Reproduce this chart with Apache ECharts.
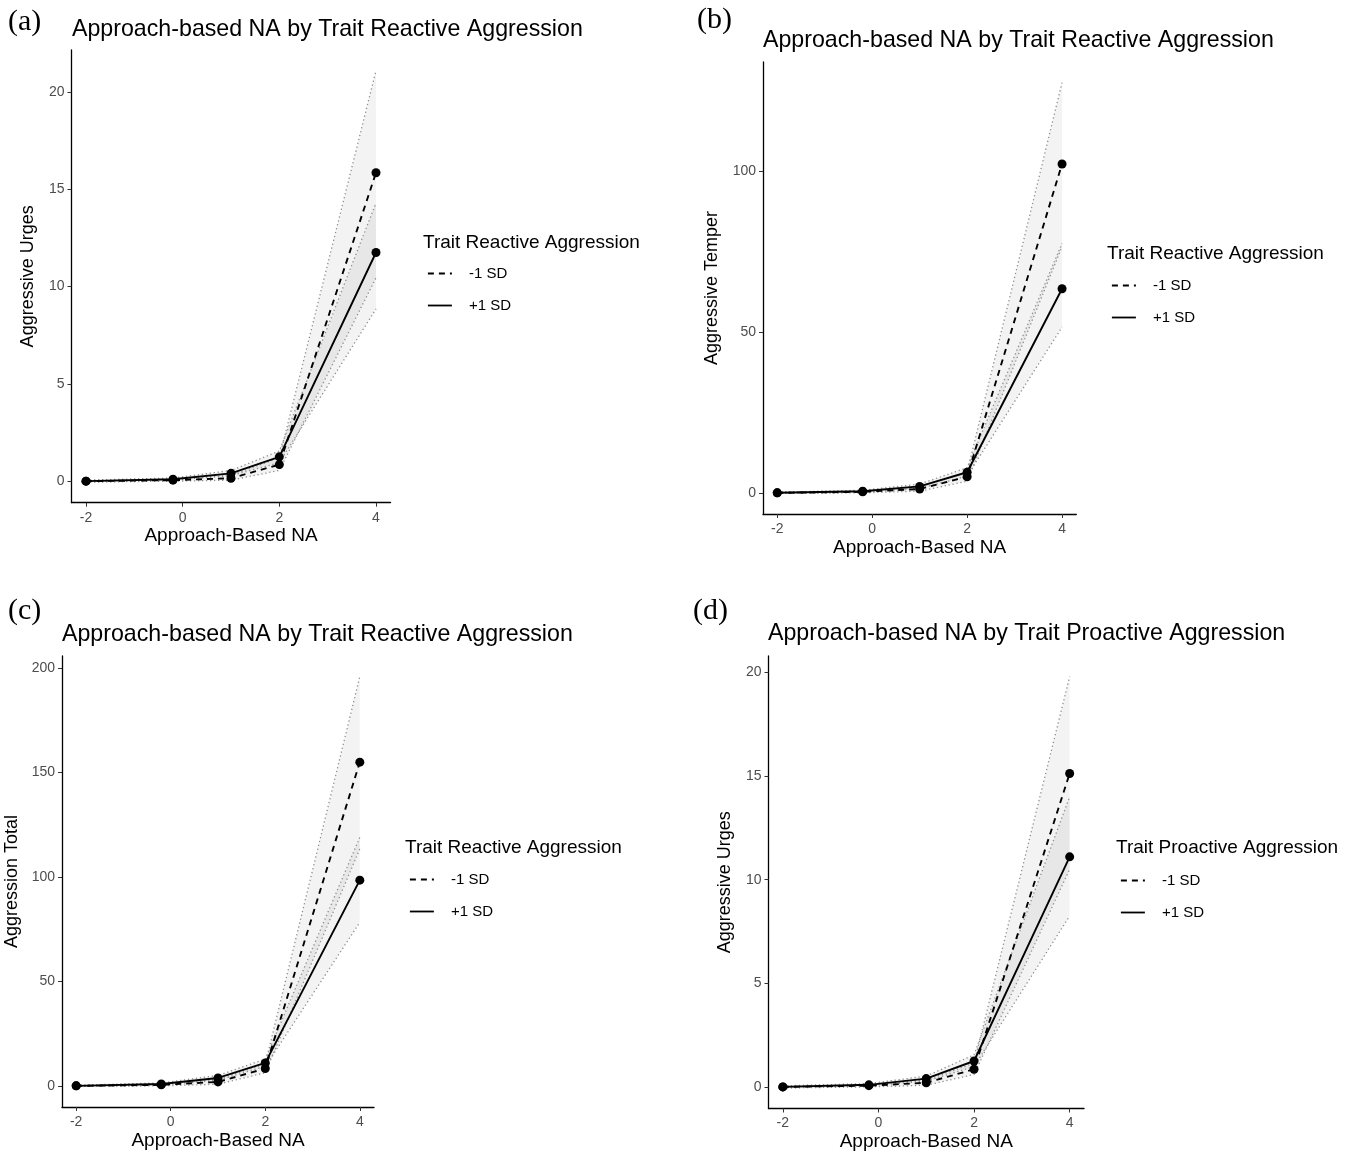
<!DOCTYPE html>
<html><head><meta charset="utf-8">
<script src="https://cdn.jsdelivr.net/npm/echarts@6/dist/echarts.min.js"></script>
<style>html,body{margin:0;padding:0;background:#fff}#c{width:1356px;height:1155px}</style>
</head><body><div id="c"></div>
<script>
// ---------- DATA ----------
const xValues = [-2, -0.2, 1, 2, 4];
const xTickValues = [-2, 0, 2, 4];
const seriesNames = ['-1 SD', '+1 SD'];
const xAxisTitle = 'Approach-Based NA';

// (a)
const aTag = '(a)';
const aTitle = 'Approach-based NA by Trait Reactive Aggression';
const aYTitle = 'Aggressive Urges';
const aLegendTitle = 'Trait Reactive Aggression';
const aYTicks = [0, 5, 10, 15, 20];
const aMinus = [0, 0.05, 0.15, 0.85, 15.85];
const aPlus = [0, 0.1, 0.4, 1.25, 11.75];
const aMinusLo = [-0.05, 0, 0.05, 0.55, 10.45];
const aMinusHi = [0.05, 0.12, 0.3, 1.2, 21.1];
const aPlusLo = [-0.05, 0.05, 0.28, 0.95, 8.85];
const aPlusHi = [0.05, 0.16, 0.55, 1.55, 14.3];

// (b)
const bTag = '(b)';
const bTitle = 'Approach-based NA by Trait Reactive Aggression';
const bYTitle = 'Aggressive Temper';
const bLegendTitle = 'Trait Reactive Aggression';
const bYTicks = [0, 50, 100];
const bMinus = [0, 0.3, 1.2, 5, 102.2];
const bPlus = [0, 0.5, 2, 6.4, 63.4];
const bMinusLo = [-0.2, 0, 0.5, 3.6, 76.5];
const bMinusHi = [0.2, 0.6, 2, 6.4, 127.5];
const bPlusLo = [-0.2, 0.2, 1.3, 5.2, 51.5];
const bPlusHi = [0.2, 0.8, 2.7, 7.8, 77.5];

// (c)
const cTag = '(c)';
const cTitle = 'Approach-based NA by Trait Reactive Aggression';
const cYTitle = 'Aggression Total';
const cLegendTitle = 'Trait Reactive Aggression';
const cYTicks = [0, 50, 100, 150, 200];
const cMinus = [0, 0.5, 1.9, 8.3, 155];
const cPlus = [0, 0.9, 3.8, 11, 98.5];
const cMinusLo = [-0.3, 0, 0.8, 6.3, 113.5];
const cMinusHi = [0.3, 1, 3.2, 10.5, 196];
const cPlusLo = [-0.3, 0.4, 2.7, 9.3, 78.3];
const cPlusHi = [0.3, 1.4, 5, 12.8, 119];

// (d)
const dTag = '(d)';
const dTitle = 'Approach-based NA by Trait Proactive Aggression';
const dYTitle = 'Aggressive Urges';
const dLegendTitle = 'Trait Proactive Aggression';
const dYTicks = [0, 5, 10, 15, 20];
const dMinus = [0, 0.06, 0.2, 0.85, 15.12];
const dPlus = [0, 0.1, 0.4, 1.25, 11.1];
const dMinusLo = [-0.05, 0, 0.08, 0.6, 10.5];
const dMinusHi = [0.05, 0.12, 0.33, 1.15, 19.8];
const dPlusLo = [-0.05, 0.05, 0.28, 0.98, 8.25];
const dPlusHi = [0.05, 0.16, 0.52, 1.55, 14.0];

// ---------- LAYOUT ----------
const SANS = 'Liberation Sans, Arial, sans-serif';
const SERIF = 'Liberation Serif, Times New Roman, serif';
const panels = [
  {tag:aTag, title:aTitle, yTitle:aYTitle, legendTitle:aLegendTitle, yTicks:aYTicks,
   minus:aMinus, plus:aPlus, minusLo:aMinusLo, minusHi:aMinusHi, plusLo:aPlusLo, plusHi:aPlusHi,
   L:{tagX:8, tagY:7, titleX:72, titleY:18.5, grid:{left:71.5, top:50, width:319, height:452.7}, yNameGap:34,
      legTitleX:423, legTitleY:233.5, legX:427, legY:266}},
  {tag:bTag, title:bTitle, yTitle:bYTitle, legendTitle:bLegendTitle, yTicks:bYTicks,
   minus:bMinus, plus:bPlus, minusLo:bMinusLo, minusHi:bMinusHi, plusLo:bPlusLo, plusHi:bPlusHi,
   L:{tagX:697, tagY:5, titleX:763, titleY:29.5, grid:{left:763, top:62, width:313.3, height:452}, yNameGap:42,
      legTitleX:1107, legTitleY:244.5, legX:1111, legY:278}},
  {tag:cTag, title:cTitle, yTitle:cYTitle, legendTitle:cLegendTitle, yTicks:cYTicks,
   minus:cMinus, plus:cPlus, minusLo:cMinusLo, minusHi:cMinusHi, plusLo:cPlusLo, plusHi:cPlusHi,
   L:{tagX:8, tagY:596, titleX:62, titleY:623.5, grid:{left:62, top:656, width:312, height:451}, yNameGap:41,
      legTitleX:405, legTitleY:838.5, legX:409, legY:872}},
  {tag:dTag, title:dTitle, yTitle:dYTitle, legendTitle:dLegendTitle, yTicks:dYTicks,
   minus:dMinus, plus:dPlus, minusLo:dMinusLo, minusHi:dMinusHi, plusLo:dPlusLo, plusHi:dPlusHi,
   L:{tagX:693, tagY:596, titleX:768, titleY:622.5, grid:{left:768.5, top:656, width:315.5, height:452.5}, yNameGap:34,
      legTitleX:1116, legTitleY:838.5, legX:1120, legY:873}}
];

function expand(vals) {
  const mn = Math.min.apply(null, vals), mx = Math.max.apply(null, vals);
  const pad = (mx - mn) * 0.05;
  return [mn - pad, mx + pad];
}
const xExt = expand(xValues);

const titles = [], grids = [], xAxes = [], yAxes = [], legends = [], series = [];
const RIBBON_FILL = 'rgba(0,0,0,0.048)';
const DOT = {color:'#8f8f8f', width:1.3, type:[1.3, 2.7]};

panels.forEach((p, gi) => {
  const L = p.L;
  titles.push({text:p.tag, left:L.tagX, top:L.tagY, padding:0,
    textStyle:{fontFamily:SERIF, fontSize:30, fontWeight:'normal', color:'#000'}});
  titles.push({text:p.title, left:L.titleX, top:L.titleY, padding:0,
    textStyle:{fontFamily:SANS, fontSize:23.2, fontWeight:'normal', color:'#000'}});
  titles.push({text:p.legendTitle, left:L.legTitleX, top:L.legTitleY, padding:0,
    textStyle:{fontFamily:SANS, fontSize:19, fontWeight:'normal', color:'#000'}});
  grids.push(Object.assign({containLabel:false}, L.grid));
  const yExt = expand([].concat(p.minusLo, p.minusHi, p.plusLo, p.plusHi));
  xAxes.push({gridIndex:gi, type:'value', min:xExt[0], max:xExt[1],
    axisLine:{show:true, onZero:false, lineStyle:{color:'#000', width:1.3}},
    axisTick:{show:true, length:4, customValues:xTickValues, lineStyle:{color:'#333', width:1}},
    axisLabel:{customValues:xTickValues, color:'#4d4d4d', fontSize:14, margin:8, fontFamily:SANS},
    splitLine:{show:false},
    name:xAxisTitle, nameLocation:'middle', nameGap:24,
    nameTextStyle:{fontFamily:SANS, fontSize:19, color:'#000'}});
  yAxes.push({gridIndex:gi, type:'value', min:yExt[0], max:yExt[1],
    axisLine:{show:true, onZero:false, lineStyle:{color:'#000', width:1.3}},
    axisTick:{show:true, length:4, customValues:p.yTicks, lineStyle:{color:'#333', width:1}},
    axisLabel:{customValues:p.yTicks, color:'#4d4d4d', fontSize:14, margin:7, fontFamily:SANS},
    splitLine:{show:false},
    name:p.yTitle, nameLocation:'middle', nameGap:L.yNameGap, nameRotate:90,
    nameTextStyle:{fontFamily:SANS, fontSize:18, color:'#000'}});
  legends.push({data:seriesNames, orient:'vertical', left:L.legX, top:L.legY, padding:0,
    itemWidth:24, itemHeight:14, itemGap:17, selectedMode:false,
    itemStyle:{opacity:0},
    lineStyle:{width:1.8},
    textStyle:{fontFamily:SANS, fontSize:15, color:'#000', lineHeight:14, padding:[0,0,0,12]}});

  const ribbons = [[p.minusLo, p.minusHi], [p.plusLo, p.plusHi]];
  ribbons.forEach((r, ri) => {
    const lo = r[0], hi = r[1];
    series.push({type:'custom', name:'ci'+gi+'_'+ri, xAxisIndex:gi, yAxisIndex:gi, silent:true, z:1,
      data: xValues.map((x, i) => [x, lo[i], hi[i]]),
      encode:{x:0, y:[1,2]},
      renderItem: function (params, api) {
        if (params.dataIndex !== 0) return null;
        const pts = [];
        for (let i = 0; i < xValues.length; i++) pts.push(api.coord([xValues[i], hi[i]]));
        for (let i = xValues.length - 1; i >= 0; i--) pts.push(api.coord([xValues[i], lo[i]]));
        return {type:'polygon', shape:{points:pts}, style:{fill:RIBBON_FILL}};
      }});
    [lo, hi].forEach((edge, ei) => {
      series.push({type:'line', name:'edge'+gi+'_'+ri+'_'+ei, xAxisIndex:gi, yAxisIndex:gi, silent:true, z:2,
        data: xValues.map((x, i) => [x, edge[i]]), symbol:'none', lineStyle:DOT});
    });
  });
  series.push({type:'line', name:seriesNames[0], xAxisIndex:gi, yAxisIndex:gi, z:5,
    data: xValues.map((x, i) => [x, p.minus[i]]),
    symbol:'circle', symbolSize:9, itemStyle:{color:'#000'},
    lineStyle:{color:'#000', width:1.9, type:[6,5]}});
  series.push({type:'line', name:seriesNames[1], xAxisIndex:gi, yAxisIndex:gi, z:5,
    data: xValues.map((x, i) => [x, p.plus[i]]),
    symbol:'circle', symbolSize:9, itemStyle:{color:'#000'},
    lineStyle:{color:'#000', width:1.9, type:'solid'}});
});

const chart = echarts.init(document.getElementById('c'), null, {renderer:'canvas'});
chart.setOption({
  backgroundColor:'#fff',
  animation:false,
  title:titles, grid:grids, xAxis:xAxes, yAxis:yAxes, legend:legends, series:series
});
</script></body></html>
